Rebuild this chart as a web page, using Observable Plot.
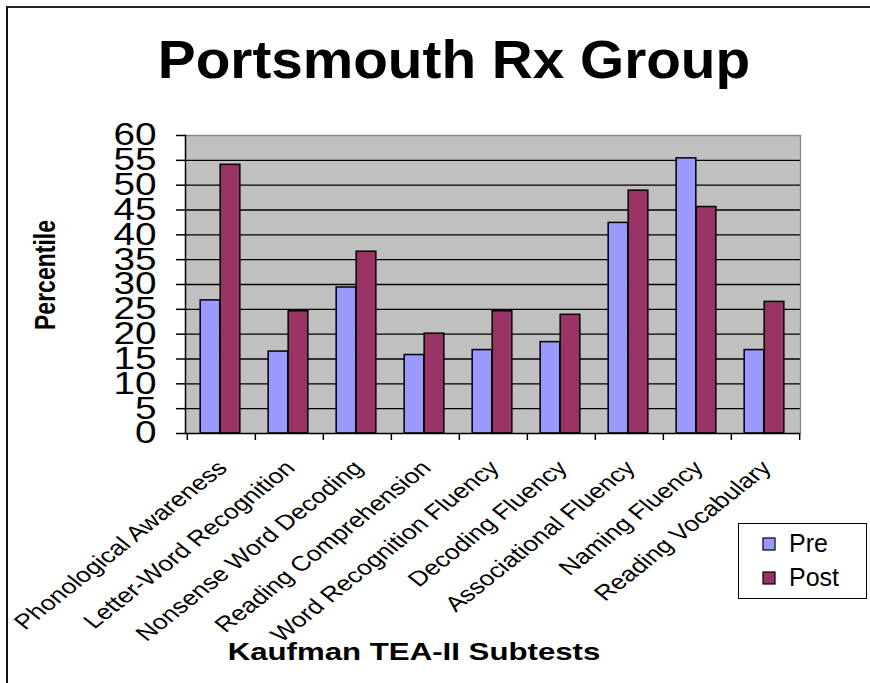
<!DOCTYPE html>
<html>
<head>
<meta charset="utf-8">
<script src="https://cdn.jsdelivr.net/npm/d3@7"></script>
<script src="https://cdn.jsdelivr.net/npm/@observablehq/plot@0.6"></script>
<style>
  html, body { margin: 0; padding: 0; background: #fff; }
  #wrap { position: relative; width: 870px; height: 683px; overflow: hidden; font-family: "Liberation Sans", Arial, sans-serif; color: #000; }
  #wrap > svg { position: absolute; left: 0; top: 0; }
  .border { position: absolute; left: 6px; top: 6px; right: -4px; bottom: -4px; border-top: 2px solid #222; border-left: 2px solid #111; }
  .title { position: absolute; left: 454px; top: 33px; font-weight: bold; font-size: 53px; line-height: 1; white-space: nowrap; transform: translateX(-50%) scaleX(1.07); }
  .ytitle { position: absolute; left: 45px; top: 275px; font-weight: bold; font-size: 23px; line-height: 1; white-space: nowrap; transform: translate(-50%, -50%) scaleX(1.3) rotate(-90deg); }
  .xtitle { position: absolute; left: 414px; top: 640px; font-weight: bold; font-size: 24px; line-height: 1; white-space: nowrap; transform: translateX(-50%) scaleX(1.3); }
  .legendbox { position: absolute; left: 738px; top: 523px; width: 129px; height: 76px; border: 1.5px solid #000; background: #fff; box-sizing: border-box; }
  .legendbox .lg-swatches { display: flex !important; flex-direction: column !important; align-items: flex-start !important; margin: 0 !important; padding: 5px 0 0 24px; min-height: 0 !important; font-family: "Liberation Sans", Arial, sans-serif !important; font-size: 25px !important; color: #000; }
  .legendbox .lg-swatch { display: flex !important; align-items: center; margin: 0 0 5px 0 !important; line-height: 29px; }
  .legendbox .lg-swatch svg { margin-right: 14px !important; overflow: visible; }
  .legendbox .lg-swatch svg rect { stroke: #000; stroke-width: 1.2px; }
</style>
</head>
<body>
<div id="wrap">
  <div class="border"></div>
  <div class="title">Portsmouth Rx Group</div>
  <div class="ytitle">Percentile</div>
  <div class="xtitle">Kaufman TEA-II Subtests</div>
</div>
<script>
// ---- data ----
const categories = [
  "Phonological Awareness",
  "Letter-Word Recognition",
  "Nonsense Word Decoding",
  "Reading Comprehension",
  "Word Recognition Fluency",
  "Decoding Fluency",
  "Associational Fluency",
  "Naming Fluency",
  "Reading Vocabulary"
];
const preValues  = [26.8, 16.5, 29.4, 15.8, 16.8, 18.4, 42.4, 55.4, 16.8];
const postValues = [54.1, 24.6, 36.6, 20.1, 24.6, 23.9, 48.9, 45.6, 26.5];
const seriesNames = ["Pre", "Post"];
const seriesColors = ["#9999ff", "#993366"];
const yTicks = [0, 5, 10, 15, 20, 25, 30, 35, 40, 45, 50, 55, 60];
const gridTicks = [5, 10, 15, 20, 25, 30, 35, 40, 45, 50, 55];

// long-form table built from the arrays
const rows = [];
categories.forEach((c, i) => {
  rows.push({category: c, series: "Pre", value: preValues[i]});
  rows.push({category: c, series: "Post", value: postValues[i]});
});

const W = 870, H = 683;
const mL = 185, mR = 70, mT = 135, mB = 250;
const band = (W - mL - mR) / categories.length;
const barW = 20;
const font = '"Liberation Sans", Arial, sans-serif';

const chart = Plot.plot({
  width: W, height: H,
  marginLeft: mL, marginRight: mR, marginTop: mT, marginBottom: mB,
  style: {fontFamily: font, background: "transparent", color: "#000", overflow: "visible"},
  x: {domain: categories, padding: 0, axis: null, label: null},
  y: {domain: [0, 60], axis: null, label: null},
  color: {domain: seriesNames, range: seriesColors},
  marks: [
    Plot.frame({fill: "#c0c0c0"}),
    Plot.gridY({ticks: gridTicks, stroke: "#000", strokeOpacity: 1, strokeWidth: 1.3}),
    Plot.ruleY([60], {stroke: "#888", strokeWidth: 1.3}),
    Plot.frame({anchor: "right", stroke: "#888", strokeWidth: 1.3}),
    Plot.barY(rows, {
      filter: d => d.series === "Pre",
      x: "category", y: "value", fill: "series",
      stroke: "#000", strokeWidth: 1.5,
      insetLeft: band / 2 - barW - 1, insetRight: band / 2 + 1
    }),
    Plot.barY(rows, {
      filter: d => d.series === "Post",
      x: "category", y: "value", fill: "series",
      stroke: "#000", strokeWidth: 1.5,
      insetLeft: band / 2 - 1, insetRight: band / 2 - barW + 1
    }),
    Plot.ruleY([0], {stroke: "#000", strokeWidth: 1.5}),
    Plot.frame({anchor: "left", stroke: "#000", strokeWidth: 1.5}),
    Plot.axisY({ticks: yTicks, tickSize: 9, tickPadding: 20, fontSize: 31, stroke: "#000", strokeWidth: 1.5, tickFormat: d => String(d), label: null}),
    Plot.axisX({tickSize: 7, tickFormat: () => "", dx: -band / 2, stroke: "#000", strokeWidth: 1.5, label: null}),
    Plot.axisX({ticks: [categories[categories.length - 1]], tickSize: 7, tickFormat: () => "", dx: band / 2, stroke: "#000", strokeWidth: 1.5, label: null}),
    Plot.axisX({tickSize: 0, tickPadding: 31, tickRotate: -45, fontSize: 21, dx: 1, label: null})
  ]
});

const wrap = document.getElementById("wrap");
wrap.insertBefore(chart, wrap.firstChild.nextSibling);

// horizontal stretch of tick labels as in the reference rendering
d3.select(chart).selectAll('g[aria-label="y-axis tick label"] text').each(function () {
  const t = this.getAttribute("transform");
  if (t) this.setAttribute("transform", t + " scale(1.25,1)");
});
d3.select(chart).selectAll('g[aria-label="x-axis tick label"] text').each(function () {
  const t = this.getAttribute("transform");
  if (t && t.includes("rotate(")) this.setAttribute("transform", t.replace("rotate(", "scale(1.26,1) rotate("));
});

// legend from the plot's color scale
const box = document.createElement("div");
box.className = "legendbox";
box.appendChild(chart.legend("color", {className: "lg", swatchSize: 12}));
wrap.appendChild(box);
</script>
</body>
</html>
